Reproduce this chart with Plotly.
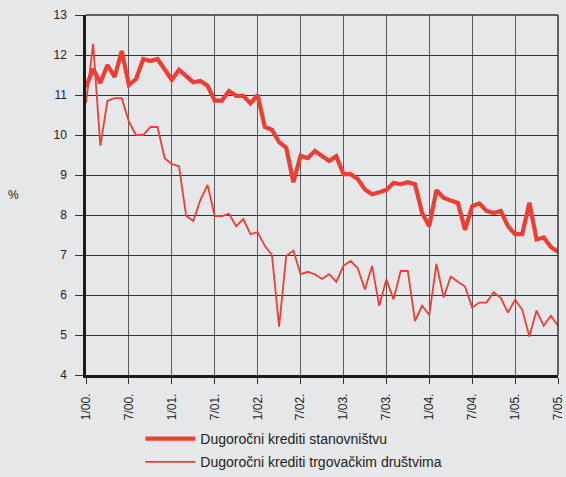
import plotly.graph_objects as go

# Monthly interest rates, January 2000 - July 2005 (%)
months = list(range(67))
tick_pos = [0, 6, 12, 18, 24, 30, 36, 42, 48, 54, 60, 66]
tick_text = ["1/00.", "7/00.", "1/01.", "7/01.", "1/02.", "7/02.",
             "1/03.", "7/03.", "1/04.", "7/04.", "1/05.", "7/05."]

stanovnistvo = [
    11.2, 11.65, 11.3, 11.75, 11.45, 12.1, 11.25, 11.4, 11.9, 11.85, 11.9, 11.62,
    11.38, 11.63, 11.46, 11.32, 11.35, 11.23, 10.86, 10.86, 11.1, 10.98, 10.98, 10.79,
    11.0, 10.2, 10.13, 9.82, 9.68, 8.82, 9.48, 9.42, 9.6, 9.48, 9.35, 9.47,
    9.02, 9.02, 8.9, 8.64, 8.52, 8.57, 8.63, 8.8, 8.77, 8.82, 8.77, 8.05,
    7.72, 8.62, 8.43, 8.36, 8.3, 7.63, 8.22, 8.29, 8.1, 8.05, 8.1, 7.72,
    7.52, 7.52, 8.31, 7.39, 7.44, 7.2, 7.08,
]

trgovacka_drustva = [
    10.8, 12.28, 9.73, 10.85, 10.92, 10.92, 10.33, 10.0, 10.0, 10.2, 10.2, 9.42,
    9.27, 9.22, 7.98, 7.85, 8.38, 8.75, 7.97, 7.97, 8.03, 7.72, 7.9, 7.52,
    7.57, 7.23, 7.0, 5.21, 6.98, 7.11, 6.52, 6.58, 6.52, 6.4, 6.52, 6.33,
    6.73, 6.85, 6.67, 6.14, 6.73, 5.73, 6.39, 5.89, 6.6, 6.6, 5.35, 5.73,
    5.5, 6.78, 5.94, 6.46, 6.33, 6.21, 5.69, 5.81, 5.81, 6.07, 5.93, 5.56,
    5.88, 5.63, 4.96, 5.61, 5.23, 5.48, 5.23,
]

RED = "#ee3e34"
BG = "#e6e7e8"

fig = go.Figure()
fig.add_trace(go.Scatter(
    x=months, y=stanovnistvo, mode="lines",
    name="Dugoročni krediti stanovništvu",
    line=dict(color=RED, width=4.2), legendgroup="a",
))
fig.add_trace(go.Scatter(
    x=months, y=trgovacka_drustva, mode="lines",
    name="Dugoročni krediti trgovačkim društvima",
    line=dict(color=RED, width=1.8), legendgroup="b",
))

fig.update_layout(
    width=566, height=477,
    margin=dict(l=86, r=8, t=15, b=102, autoexpand=False),
    paper_bgcolor=BG, plot_bgcolor=BG,
    font=dict(family="Liberation Sans, Arial, sans-serif", size=12, color="#222222"),
    showlegend=True,
    legend=dict(
        xref="container", yref="container",
        x=0.248, xanchor="left", y=0.113, yanchor="top",
        bgcolor="rgba(0,0,0,0)", font=dict(size=14, color="#222222"),
        itemwidth=50, tracegroupgap=2,
    ),
    xaxis=dict(
        range=[0, 66], tickvals=tick_pos, ticktext=tick_text, tickangle=-90,
        showgrid=True, gridcolor="#5a5a5a", gridwidth=1.3,
        showline=True, linecolor="#1a1a1a", linewidth=2.5,
        ticks="outside", ticklen=6, tickcolor="#333333", tickwidth=1,
        ticklabelstandoff=5,
        zeroline=False, fixedrange=True, automargin=False,
    ),
    yaxis=dict(
        range=[4, 13], dtick=1, tick0=4,
        showgrid=True, gridcolor="#333333", gridwidth=1.2,
        showline=True, linecolor="#1a1a1a", linewidth=2.5,
        ticks="outside", ticklen=8, tickcolor="#333333", tickwidth=1,
        ticklabelstandoff=6,
        zeroline=False, fixedrange=True, automargin=False,
    ),
    shapes=[
        dict(type="line", xref="paper", yref="paper", x0=0, x1=1, y0=1, y1=1,
             line=dict(color="#333333", width=1.5)),
        dict(type="line", xref="paper", yref="paper", x0=1, x1=1, y0=0, y1=1,
             line=dict(color="#333333", width=1.5)),
    ],
    annotations=[
        dict(text="%", xref="paper", yref="paper", x=-0.17, y=0.5,
             showarrow=False, font=dict(size=12, color="#222222")),
    ],
)

fig.write_html("out.html")
